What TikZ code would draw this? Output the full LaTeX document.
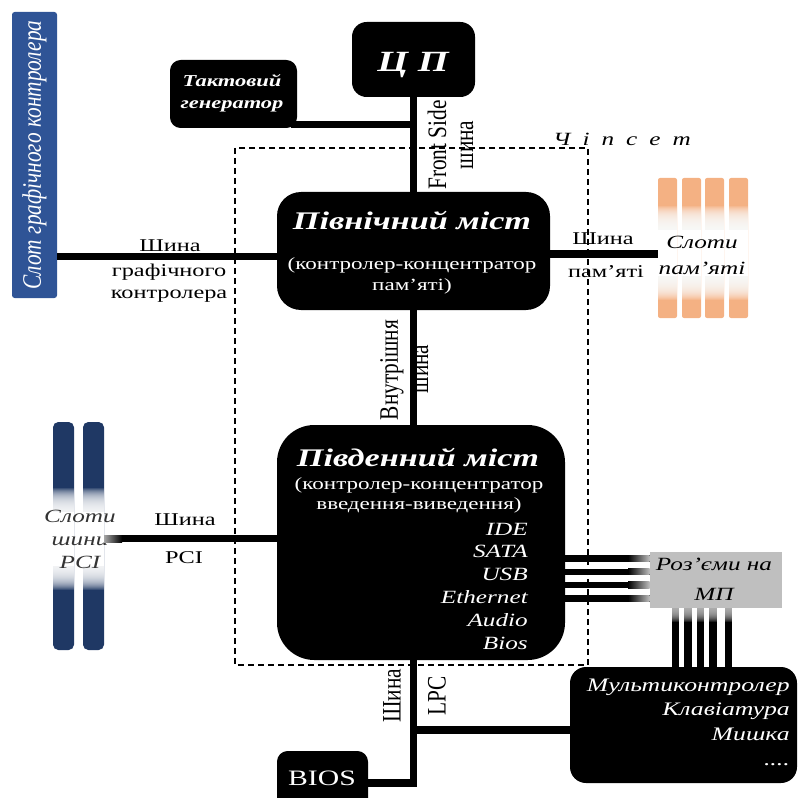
\documentclass[tikz,border=0pt]{standalone}
\usepackage{fontspec}
\setmainfont[FakeStretch=1.35]{Liberation Serif}
\newfontfamily\rotfont[FakeStretch=0.8]{Liberation Serif}
\usetikzlibrary{calc}

\definecolor{gfxblue}{RGB}{47,84,150}
\definecolor{pciblue}{RGB}{31,56,100}
\definecolor{memorange}{RGB}{244,177,131}
\definecolor{jackgray}{RGB}{191,191,191}

\tikzset{
  chip/.style={fill=black, inner sep=0pt},
  bus/.style={line width=5.5pt},
  wire/.style={line width=4.8pt},
  wirev/.style={line width=5.6pt},
  glow/.style={fill=white, opacity=0.12},
  lbl/.style={inner sep=0pt, anchor=base, align=center, font=\fontsize{13.5}{16.5}\selectfont},
  vlbl/.style={inner sep=0pt, rotate=90, font=\rotfont\fontsize{20}{24}\selectfont},
  chiptitle/.style={text=white, inner sep=0pt, anchor=base, font=\fontsize{19}{22}\selectfont\bfseries\itshape},
  chipsub/.style={text=white, inner sep=0pt, anchor=base, align=center, font=\fontsize{12.8}{15}\selectfont},
  chiplist/.style={text=white, inner sep=0pt, anchor=base east, align=right, font=\fontsize{14}{17.1}\selectfont\itshape},
  slotlbl/.style={inner sep=0pt, anchor=base, align=center, font=\fontsize{14}{17.25}\selectfont\itshape},
}

\begin{document}
\begin{tikzpicture}[x=0.75pt,y=0.75pt,yscale=-1]
\useasboundingbox (0,0) rectangle (797,798);
\clip (0,0) rectangle (797,798);

% chipset frame
\draw[line width=0.8pt, dash pattern={on 4.5pt off 3pt}] (235,148) rectangle (588,665);
\node[lbl, font=\fontsize{14}{17}\selectfont\itshape] (chipsetlbl) at (622,146) {Ч\hspace{9pt}і\hspace{9pt}п\hspace{9pt}с\hspace{9pt}е\hspace{9pt}т};

% memory slots (white glow in the middle)
\foreach \x in {658,682,705,729} {
  \fill[memorange, rounded corners=1.5pt] (\x,178) rectangle ++(19,140);
  \foreach \i in {0,...,23} {
    \fill[glow] (\x,206+\i) rectangle (\x+19,231);
    \fill[glow] (\x,275) rectangle (\x+19,300-\i);
  }
  \fill[white] (\x,230) rectangle ++(19,46);
}
\node[minimum width=67.5pt, minimum height=105pt, inner sep=0pt] (memslot) at (703,248) {};
\node[slotlbl, font=\fontsize{14}{19.5}\selectfont\itshape] (memlbl) at (702,274) {Слоти\\пам’яті};

% PCI slots
\foreach \x in {53,83} {
  \fill[pciblue, rounded corners=4pt] (\x,422) rectangle ++(21,228);
  \foreach \i in {0,...,23} {
    \fill[glow] (\x,488+\i) rectangle (\x+21,513);
    \fill[glow] (\x,565) rectangle (\x+21,590-\i);
  }
  \fill[white] (\x,512) rectangle ++(21,54);
}
\node[minimum width=38.25pt, minimum height=171pt, inner sep=0pt] (pcislot) at (78.5,536) {};
\node[slotlbl, text=black!80] (pcilbl) at (80,568) {Слоти\\шини\\PCI};

% graphics slot
\node[fill=gfxblue, minimum width=33.75pt, minimum height=214.5pt, rounded corners=2pt, inner sep=0pt, text=white, font=\rotfont\fontsize{20}{24}\selectfont\itshape] (gfx) at (34.5,155) {\rotatebox{90}{Слот графічного контролера}};

% connectors on the board
\node[fill=jackgray, minimum width=99pt, minimum height=42pt, inner sep=0pt] (jack) at (716,580) {};
\node[slotlbl, font=\fontsize{14}{22.5}\selectfont\itshape] (jacklbl) at (714,600) {Роз’єми на\\МП};

% chips
\node[chip, minimum width=92.25pt, minimum height=56.25pt, rounded corners=11pt] (cpu) at (413.5,59.5) {};
\node[chip, minimum width=95.25pt, minimum height=51pt, rounded corners=8pt] (clk) at (233.5,94) {};
\node[chip, minimum width=204.75pt, minimum height=88.5pt, rounded corners=18pt] (nb) at (413.5,251) {};
\node[chip, minimum width=216pt, minimum height=176.25pt, rounded corners=28pt] (sb) at (421,542.5) {};
\node[chip, minimum width=170.25pt, minimum height=87pt, rounded corners=12pt] (multi) at (683.5,725) {};
\node[chip, minimum width=68.25pt, minimum height=45pt, rounded corners=8pt] (bios) at (322.5,781) {};

% buses
\coordinate (clkjoin) at ($(clk.south east)+(-6,-4)$);
\coordinate (gfxjoin) at ($(nb.west)+(0,5.5)$);
\coordinate (memjoin) at ($(nb.east)+(0,3)$);
\coordinate (pcijoin) at ($(pcislot.east)+(0,2.5)$);
\coordinate (biosjoin) at ($(bios.east)+(0,2)$);
\coordinate (multijoin) at ($(multi.west)+(0,5)$);
\draw[bus] (cpu.south) -- (nb.north);
\draw[bus] (clkjoin) -- (clkjoin -| cpu.south);
\draw[bus] (gfxjoin) -- (gfxjoin -| gfx.east);
\draw[bus] (memjoin) -- (memjoin -| memslot.west);
\draw[bus] (nb.south) -- (nb.south |- sb.north);
\draw[bus] (pcijoin) -- (pcijoin -| sb.west);
\shade[left color=black!35, right color=black] (104,535) rectangle (122,542.3);
\draw[bus] (nb.south |- sb.south) |- (biosjoin);
\draw[bus] (nb.south |- multijoin) -- (multijoin);

\foreach \y in {558.3,571.7,585,598.3} {
  \draw[wire] (sb.east |- 0,\y) -- (jack.west |- 0,\y);
  \shade[left color=black, right color=jackgray] (628,\y-3.2) rectangle (jack.west |- 0,\y+3.2);
}
\foreach \x in {675.5,688,700.5,713,728.5} {
  \draw[wirev] (jack.south -| \x,0) -- (multi.north -| \x,0);
  \foreach \i in {1,...,14}
    \fill[jackgray, opacity=0.16] (\x-3.75,608) rectangle (\x+3.75,608+\i);
}

% chip texts
\node[chiptitle, font=\fontsize{22}{26}\selectfont\bfseries\itshape] (cputxt) at (413,72) {Ц П};
\node[chipsub, font=\fontsize{12.5}{16.5}\selectfont\bfseries\itshape] (clktxt) at (232,109) {Тактовий\\генератор};
\node[chiptitle] (nbtitle) at (412,230) {Північний міст};
\node[chipsub] (nbsub) at (412,290) {(контролер-концентратор\\пам’яті)};
\node[chiptitle] (sbtitle) at (418,466) {Південний міст};
\node[chipsub] (sbsub) at (419,509) {(контролер-концентратор\\введення-виведення)};
\node[chiplist] (sblist) at (528,649) {IDE\\SATA\\USB\\Ethernet\\Audio\\Bios};
\node[chiplist, font=\fontsize{14.3}{18.4}\selectfont\itshape] (multitxt) at (790,765) {Мультиконтролер\\Клавіатура\\Мишка\\....};
\node[chiptitle, font=\fontsize{16.5}{20}\selectfont] (biostxt) at (322,785) {BIOS};

% bus labels
\node[lbl] (gfxbuslbl) at (170,252) {Шина};
\node[lbl] (gfxbuslbl2) at (169,298) {графічного\\контролера};
\node[vlbl] (fsblbl) at (437,145) {Front Side};
\node[vlbl] (fsblbl2) at (467,145) {шина};
\node[lbl] (membuslbl) at (603,245) {Шина};
\node[lbl] (membuslbl2) at (606,277) {пам’яті};
\node[vlbl] (intlbl) at (392,370) {Внутрішня};
\node[vlbl] (intlbl2) at (422,369) {шина};
\node[lbl] (pcibuslbl) at (185,525) {Шина};
\node[lbl] (pcibuslbl2) at (184,563) {PCI};
\node[vlbl] (lpclbl) at (392,696) {Шина};
\node[vlbl] (lpclbl2) at (437,696) {LPC};

\end{tikzpicture}
\end{document}
